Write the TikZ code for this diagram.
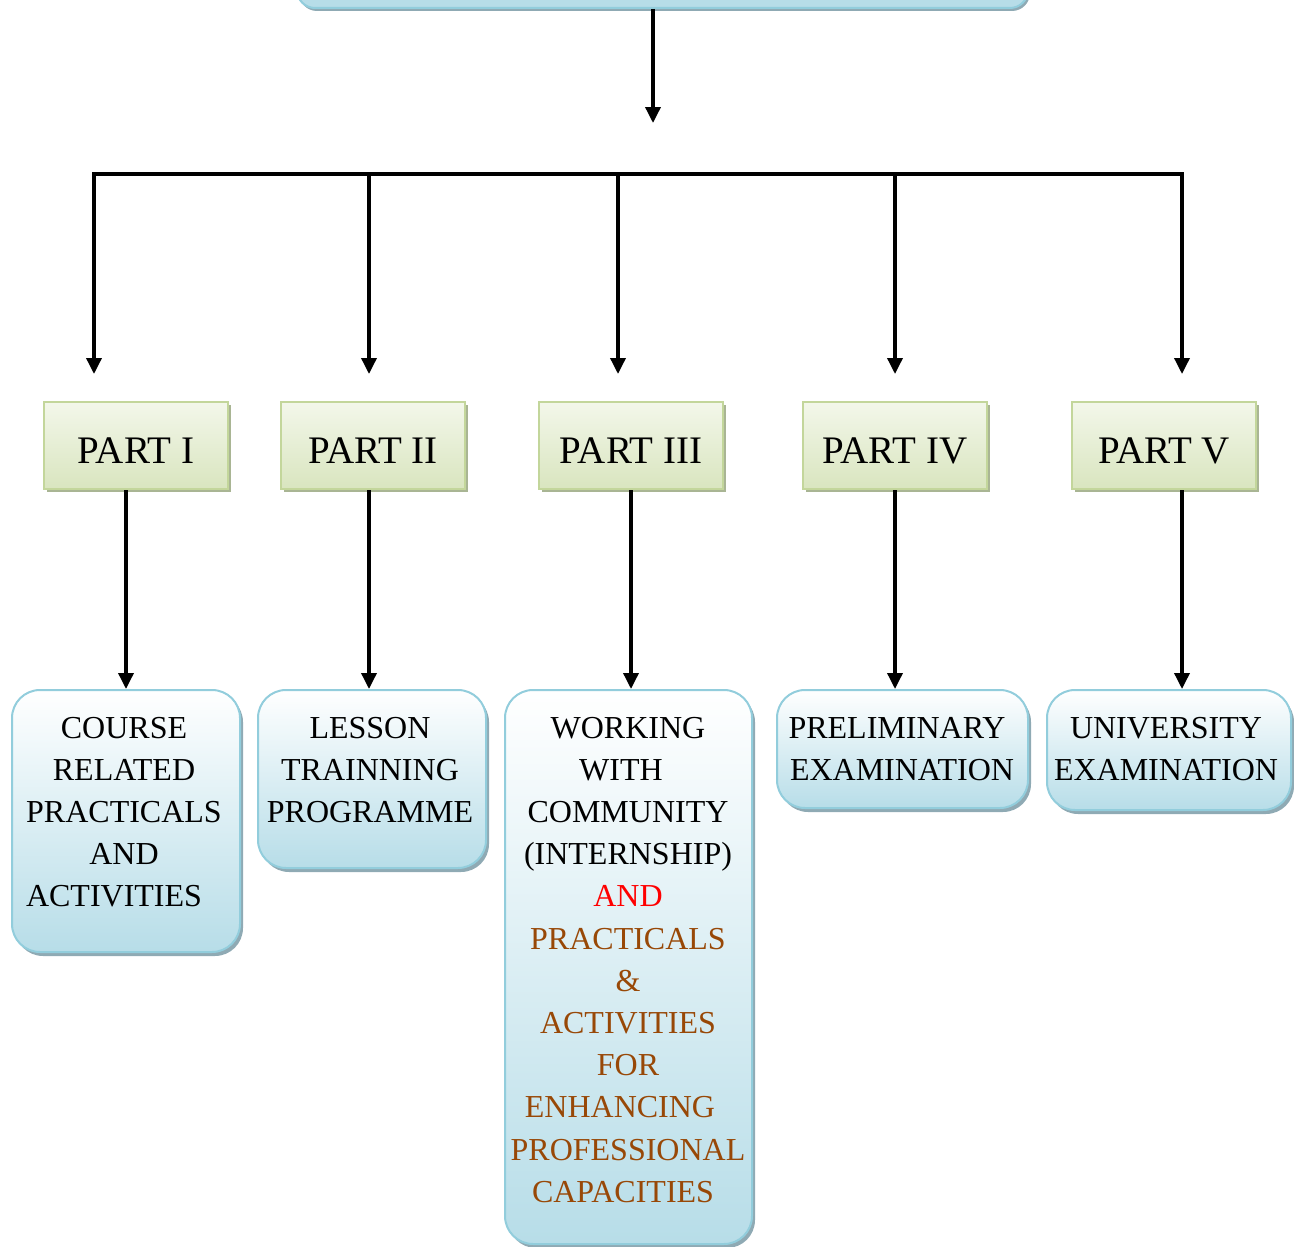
\documentclass[tikz,border=0pt]{standalone}
\usepackage{fontspec}
\setmainfont{Liberation Serif}
\usetikzlibrary{shadows,arrows.meta,calc}
\definecolor{boxblue}{HTML}{B7DDE8}
\definecolor{boxborder}{HTML}{92CDDC}
\definecolor{blueshadow}{HTML}{8FAAB4}
\definecolor{greentop}{HTML}{F3F7EA}
\definecolor{greenbot}{HTML}{D9E5BF}
\definecolor{greenborder}{HTML}{C3D69B}
\definecolor{greenshadow}{HTML}{A9B594}
\definecolor{brownt}{HTML}{984807}
\newcommand{\trail}[1]{\makebox[#1]{}}
\begin{document}
\begin{tikzpicture}[x=1pt,y=-1pt,
  conn/.style={line width=3.5pt,line cap=rect},
  arr/.style={line width=3.5pt,-{Triangle[length=16pt,width=15pt]}},
  topbox/.style={draw=boxborder,line width=2pt,fill=boxblue,rounded corners=18pt,inner sep=0pt,
    drop shadow={shadow xshift=2pt,shadow yshift=-3pt,fill=blueshadow,opacity=1}},
  bluebox/.style={draw=boxborder,line width=2pt,rounded corners=28pt,top color=white,bottom color=boxblue,inner sep=0pt,
    drop shadow={shadow xshift=3pt,shadow yshift=-4pt,fill=blueshadow,opacity=1}},
  partbox/.style={draw=greenborder,line width=2pt,top color=greentop,bottom color=greenbot,inner sep=0pt,
    minimum width=184pt,minimum height=87pt,text height=36pt,text depth=0pt,
    font=\fontsize{39}{46}\selectfont,
    drop shadow={shadow xshift=3pt,shadow yshift=-3pt,fill=greenshadow,opacity=1}},
  txt/.style={align=center,inner sep=0pt,anchor=north,font=\fontsize{32}{42.2}\selectfont},
]
\useasboundingbox (0,0) rectangle (1294,1247);

% top box (cut off)
\node[topbox,minimum width=731pt,minimum height=60pt] (top) at (662.5,-22) {};
\coordinate (a0) at (653,123);
\draw[arr] (top.south -| a0) -- (a0);

% bus
\coordinate (d1) at (94,174);
\coordinate (d2) at (369,174);
\coordinate (d3) at (618,174);
\coordinate (d4) at (895,174);
\coordinate (d5) at (1182,174);
\draw[conn] (d1) -- (d5);

% part boxes
\node[partbox] (p1) at (136,445.5) {PART I};
\node[partbox] (p2) at (373,445.5) {PART II};
\node[partbox] (p3) at (631,445.5) {PART III};
\node[partbox] (p4) at (895,445.5) {PART IV};
\node[partbox] (p5) at (1164,445.5) {PART V};

\foreach \i in {1,...,5}{
  \draw[arr,shorten >=27pt] (d\i) -- (d\i |- p\i.north);
}

% bottom boxes
\node[bluebox,minimum width=228pt,minimum height=262pt] (c1) at (126,821) {};
\node[bluebox,minimum width=228pt,minimum height=178pt] (c2) at (372,779) {};
\node[bluebox,minimum width=247pt,minimum height=554pt] (c3) at (628.5,967) {};
\node[bluebox,minimum width=251pt,minimum height=118pt] (c4) at (902.5,749) {};
\node[bluebox,minimum width=244pt,minimum height=120pt] (c5) at (1169,750) {};

\node[txt] (t1) at (124,716.8) {COURSE\\RELATED\\PRACTICALS\\AND\\ACTIVITIES\trail{20pt}};
\node[txt] (t2) at (370,716.8) {LESSON\\TRAINNING\\PROGRAMME};
\node[txt] (t3) at (628,716.8) {WORKING\\WITH\trail{14pt}\\COMMUNITY\\(INTERNSHIP)\\\textcolor{red}{AND}\\
  \textcolor{brownt}{PRACTICALS}\\\textcolor{brownt}{\&}\\\textcolor{brownt}{ACTIVITIES}\\
  \textcolor{brownt}{FOR}\\\textcolor{brownt}{ENHANCING}\trail{16pt}\\\textcolor{brownt}{PROFESSIONAL}\\
  \textcolor{brownt}{CAPACITIES}\trail{10pt}};
\node[txt] (t4) at (902,716.8) {PRELIMINARY\trail{10pt}\\EXAMINATION};
\node[txt] (t5) at (1166,716.8) {UNIVERSITY\\EXAMINATION};

% part -> bottom arrows
\draw[arr] (p1.south -| c1.north) -- (c1.north);
\draw[arr] (p2.south -| d2) -- (c2.north -| d2);
\draw[arr] (p3.south) -- (p3.south |- c3.north);
\draw[arr] (p4.south) -- (p4.south |- c4.north);
\draw[arr] (p5.south -| d5) -- (c5.north -| d5);
\end{tikzpicture}
\end{document}
